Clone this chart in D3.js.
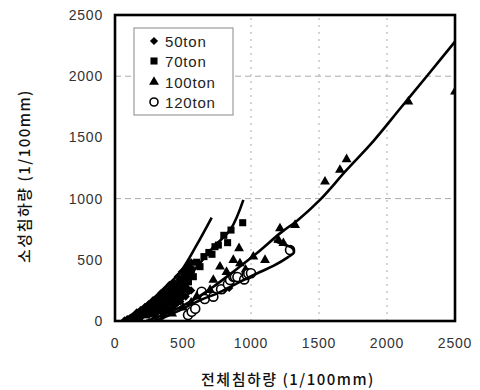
<!DOCTYPE html>
<html>
<head>
<meta charset="utf-8">
<script src="https://cdn.jsdelivr.net/npm/d3@7"></script>
<style>
  body { margin: 0; background: #fff; }
  svg { display: block; }
  .tick-label { font-family: "Liberation Sans", Arial, sans-serif; font-size: 14px; font-weight: normal; letter-spacing: 0.8px; fill: #333; }
  .title { font-family: "Noto Sans CJK KR", sans-serif; font-size: 15px; font-weight: 500; letter-spacing: 1.5px; fill: #111; }
  .legend-text { font-family: "Liberation Sans", Arial, sans-serif; font-size: 15px; font-weight: normal; letter-spacing: 0.8px; fill: #222; }
</style>
</head>
<body>
<div id="chart"></div>
<script>
// axis setup
const xTicks = [0, 500, 1000, 1500, 2000, 2500];
const yTicks = [0, 500, 1000, 1500, 2000, 2500];
const gridX = [1000, 1500, 2000];
const gridY = [1000, 2000];
const seriesNames = ["50ton", "70ton", "100ton", "120ton"];

// measured points [total settlement, plastic settlement]
const pts50 = [[70,5],[90,15],[110,20],[130,35],[150,45],[160,70],[180,60],[190,90],[210,80],[220,115],
  [240,110],[250,140],[270,130],[280,170],[300,160],[310,195],[330,185],[340,230],[360,215],[370,260],
  [390,240],[400,295],[420,275],[430,320],[450,300],[460,360],[480,340],[490,400],[510,380],[520,430],
  [540,410],[260,90],[320,120],[380,170],[440,220],[500,260],[300,60],[420,140],[200,40],[550,460],
  [350,100],[470,190],[120,10],[140,25],[170,40],[230,70],[280,100],[330,150],[360,180],[400,210],
  [410,250],[450,270],[480,300],[500,330],[530,350],[520,300],[460,230],[380,130],[340,80],[250,50],
  [290,130],[230,90],[170,20],[440,180],[560,400],[480,250],[400,160],[300,30],[360,60],[560,480],
  [100,5],[150,15],[200,60],[260,110],[310,140],[350,200],[390,200],[430,250],[470,320],[500,360],
  [540,380],[330,100],[370,140],[410,180],[450,200],[490,230],[530,270],[270,60],[320,80],[380,100],
  [420,110],[460,150],[500,200],[540,240],[350,40],[400,80],[440,130],[480,160],[520,200],[560,250],
  [800,250],[840,270]];
const pts70 = [[140,15],[180,30],[220,50],[260,70],[300,100],[340,130],[380,160],[420,200],[460,240],
  [500,270],[540,320],[576,362],[600,480],[625,444],[654,526],[690,560],[713,545],[735,607],[760,620],
  [800,700],[828,640],[853,743],[939,803],[560,420],[520,380]];
const pts100 = [[420,60],[500,110],[600,199],[650,226],[699,253],[723,335],[772,444],[870,498],[912,594],
  [919,471],[1017,526],[1103,498],[1201,662],[1213,757],[1238,635],[1324,784],[1544,1138],[1654,1234],
  [1703,1321],[2157,1792],[2500,1874],[560,150],[820,400],[960,420]];
const pts120 = [[537,49],[564,76],[590,100],[637,239],[660,180],[723,199],[780,260],[830,300],[846,335],
  [870,362],[882,362],[900,360],[950,340],[968,376],[980,389],[1000,390],[1287,580]];

// fitted curves
const line50 = [[50,0],[200,110],[350,250],[480,400],[600,620],[711,845]];
const line70 = [[80,0],[260,120],[480,280],[600,440],[720,600],[850,750],[944,990]];
const line100 = [[230,0],[400,70],[576,172],[723,280],[870,403],[1042,553],[1213,716],[1350,830],
  [1507,989],[1700,1230],[1900,1470],[2100,1740],[2300,2010],[2500,2282]];
const line120 = [[300,0],[480,90],[625,170],[760,230],[900,310],[1066,400],[1164,450],[1270,520],
  [1315,560],[1300,600],[1240,625],[1170,655]];

const width = 480, height = 390;
const margin = { left: 115, right: 25, top: 15, bottom: 69 };

const svg = d3.select("#chart").append("svg")
  .attr("width", width)
  .attr("height", height);

const x = d3.scaleLinear().domain([0, 2500]).range([margin.left, width - margin.right]);
const y = d3.scaleLinear().domain([0, 2500]).range([height - margin.bottom, margin.top]);

svg.append("clipPath").attr("id", "plot-clip")
  .append("rect")
  .attr("x", x(0)).attr("y", y(2500))
  .attr("width", x(2500) - x(0)).attr("height", y(0) - y(2500));

// grid
svg.append("g").selectAll("line").data(gridX).join("line")
  .attr("x1", d => x(d)).attr("x2", d => x(d))
  .attr("y1", y(0)).attr("y2", y(2500))
  .attr("stroke", "#aaa").attr("stroke-width", 1).attr("stroke-dasharray", "2,5");
svg.append("g").selectAll("line").data(gridY).join("line")
  .attr("x1", x(0)).attr("x2", x(2500))
  .attr("y1", d => y(d)).attr("y2", d => y(d))
  .attr("stroke", "#aaa").attr("stroke-width", 1).attr("stroke-dasharray", "6,4");

// tick labels
svg.append("g").selectAll("text").data(xTicks).join("text")
  .attr("class", "tick-label")
  .attr("x", d => x(d)).attr("y", y(0) + 27)
  .attr("text-anchor", "middle")
  .text(d => d);
svg.append("g").selectAll("text").data(yTicks).join("text")
  .attr("class", "tick-label")
  .attr("x", x(0) - 12).attr("y", d => y(d) + 5)
  .attr("text-anchor", "end")
  .text(d => d);

// titles
svg.append("text").attr("class", "title")
  .attr("x", 288).attr("y", 385)
  .attr("text-anchor", "middle")
  .text("전체침하량 (1/100mm)");
svg.append("text").attr("class", "title")
  .attr("transform", "translate(30,176) rotate(-90)")
  .attr("text-anchor", "middle")
  .text("소성침하량 (1/100mm)");

const plot = svg.append("g").attr("clip-path", "url(#plot-clip)");

const sym = {
  "50ton": d3.symbol().type(d3.symbolSquare).size(34),
  "70ton": d3.symbol().type(d3.symbolSquare).size(50),
  "100ton": d3.symbol().type(d3.symbolTriangle).size(42)
};
const rot = { "50ton": 45, "70ton": 0, "100ton": 0 };

function drawSymbols(data, name) {
  plot.append("g").selectAll("path").data(data).join("path")
    .attr("d", sym[name]())
    .attr("transform", d => `translate(${x(d[0])},${y(d[1])}) rotate(${rot[name]})`)
    .attr("fill", "#000");
}
drawSymbols(pts50, "50ton");
drawSymbols(pts70, "70ton");
drawSymbols(pts100, "100ton");
plot.append("g").selectAll("circle").data(pts120).join("circle")
  .attr("cx", d => x(d[0])).attr("cy", d => y(d[1]))
  .attr("r", 4.5)
  .attr("fill", "#fff").attr("stroke", "#000").attr("stroke-width", 1.6);

const line = d3.line().x(d => x(d[0])).y(d => y(d[1])).curve(d3.curveCatmullRom.alpha(0.5));
[line50, line70, line100, line120].forEach(pts => {
  plot.append("path").datum(pts)
    .attr("d", line)
    .attr("fill", "none").attr("stroke", "#000").attr("stroke-width", 2.6);
});

// frame
svg.append("rect")
  .attr("x", x(0)).attr("y", y(2500))
  .attr("width", x(2500) - x(0)).attr("height", y(0) - y(2500))
  .attr("fill", "none").attr("stroke", "#000").attr("stroke-width", 2.6);

// legend
const legend = svg.append("g").attr("transform", "translate(134,28)");
legend.append("rect")
  .attr("width", 99).attr("height", 87)
  .attr("fill", "#fff").attr("stroke", "#888").attr("stroke-width", 1);
const rowY = [13, 33, 54, 74];
seriesNames.forEach((name, i) => {
  const g = legend.append("g").attr("transform", `translate(20,${rowY[i]})`);
  if (name === "120ton") {
    g.append("circle").attr("r", 4).attr("fill", "#fff").attr("stroke", "#000").attr("stroke-width", 1.6);
  } else {
    g.append("path").attr("d", sym[name]()).attr("transform", `rotate(${rot[name]})`).attr("fill", "#000");
  }
  g.append("text").attr("class", "legend-text")
    .attr("x", 11).attr("y", 5.5)
    .text(name);
});
</script>
</body>
</html>
